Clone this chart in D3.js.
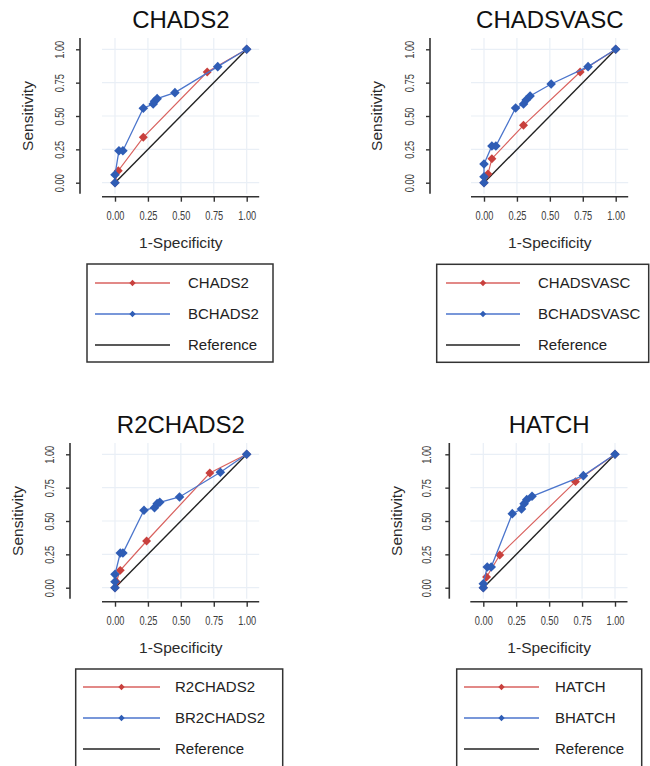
<!DOCTYPE html>
<html>
<head>
<meta charset="utf-8">
<script src="https://cdn.jsdelivr.net/npm/d3@7"></script>
<style>
  body { margin: 0; background: #fff; }
  text { font-family: "Liberation Sans", Arial, sans-serif; }
</style>
</head>
<body>
<div id="chart"></div>
<script>
// tick values and labels shared by both axes
var tickValues = [0, 0.25, 0.5, 0.75, 1];
var tickLabels = ["0.00", "0.25", "0.50", "0.75", "1.00"];

// panel titles and legend names
var titles = ["CHADS2", "CHADSVASC", "R2CHADS2", "HATCH"];
var redNames = ["CHADS2", "CHADSVASC", "R2CHADS2", "HATCH"];
var blueNames = ["BCHADS2", "BCHADSVASC", "BR2CHADS2", "BHATCH"];

// ROC points (1-specificity, sensitivity)
var chads2Fpr = [0, 0.025, 0.215, 0.70, 1];
var chads2Tpr = [0, 0.09, 0.34, 0.83, 1];
var bchads2Fpr = [0, 0, 0.03, 0.06, 0.215, 0.29, 0.30, 0.32, 0.455, 0.78, 1];
var bchads2Tpr = [0, 0.06, 0.24, 0.24, 0.558, 0.59, 0.61, 0.63, 0.675, 0.87, 1];

var chadsvascFpr = [0, 0.03, 0.06, 0.30, 0.73, 1];
var chadsvascTpr = [0, 0.065, 0.18, 0.43, 0.83, 1];
var bchadsvascFpr = [0, 0, 0, 0.06, 0.09, 0.24, 0.30, 0.32, 0.35, 0.51, 0.79, 1];
var bchadsvascTpr = [0, 0.045, 0.14, 0.275, 0.275, 0.56, 0.59, 0.62, 0.65, 0.74, 0.87, 1];

var r2chads2Fpr = [0, 0.01, 0.04, 0.24, 0.72, 1];
var r2chads2Tpr = [0, 0.045, 0.13, 0.35, 0.86, 1];
var br2chads2Fpr = [0, 0, 0, 0.04, 0.06, 0.22, 0.30, 0.32, 0.34, 0.49, 0.80, 1];
var br2chads2Tpr = [0, 0.045, 0.10, 0.26, 0.26, 0.58, 0.60, 0.63, 0.64, 0.68, 0.865, 1];

var hatchFpr = [0, 0.025, 0.125, 0.70, 1];
var hatchTpr = [0, 0.08, 0.245, 0.795, 1];
var bhatchFpr = [0, 0, 0.03, 0.06, 0.22, 0.29, 0.31, 0.33, 0.37, 0.76, 1];
var bhatchTpr = [0, 0.03, 0.155, 0.155, 0.555, 0.59, 0.63, 0.66, 0.685, 0.84, 1];

var refFpr = [0, 1];
var refTpr = [0, 1];

// colours
var redLine = "#d9625f", redMark = "#c8403d";
var blueLine = "#4b75cc", blueMark = "#2f5db5";
var gridColor = "#e9eff6";

// placement of each panel on the page
var layout = [
  {x0: 115,   yTop: 49.3,  yAxisX: 80,    yTickX: 60,    yLabX: 28,
   leg: {x: 87,    y: 264,   w: 186, h: 98,  l0: 95,  l1: 170, tx: 188, r0: 283}},
  {x0: 484,   yTop: 49.3,  yAxisX: 430,   yTickX: 410,   yLabX: 376.7,
   leg: {x: 436.7, y: 264.3, w: 212, h: 98,  l0: 446, l1: 520, tx: 538, r0: 283}},
  {x0: 115,   yTop: 454.3, yAxisX: 70,    yTickX: 50,    yLabX: 18,
   leg: {x: 75.7,  y: 669,   w: 207, h: 110, l0: 83,  l1: 160, tx: 175, r0: 687}},
  {x0: 483.3, yTop: 454.3, yAxisX: 449.3, yTickX: 426.7, yLabX: 396.7,
   leg: {x: 456.7, y: 669,   w: 185, h: 110, l0: 464, l1: 539, tx: 555, r0: 687}}
];
var plotW = 131.7, plotH = 133.4;

var series = [
  [chads2Fpr, chads2Tpr, bchads2Fpr, bchads2Tpr],
  [chadsvascFpr, chadsvascTpr, bchadsvascFpr, bchadsvascTpr],
  [r2chads2Fpr, r2chads2Tpr, br2chads2Fpr, br2chads2Tpr],
  [hatchFpr, hatchTpr, bhatchFpr, bhatchTpr]
];

function toPoints(xs, ys) {
  return xs.map(function(d, i) { return {x: d, y: ys[i]}; });
}

var svg = d3.select("#chart")
  .append("svg")
  .attr("width", 650)
  .attr("height", 766);

svg.append("rect").attr("width", 650).attr("height", 766).attr("fill", "#fff");

var diamond = d3.symbol().type(d3.symbolSquare);

layout.forEach(function(p, k) {
  var xScale = d3.scaleLinear().domain([0, 1]).range([p.x0, p.x0 + plotW]);
  var yScale = d3.scaleLinear().domain([0, 1]).range([p.yTop + plotH, p.yTop]);
  var yBot = p.yTop + plotH;
  var px0 = p.x0 - 13, px1 = p.x0 + plotW + 12.5;
  var py0 = p.yTop - 11.3, py1 = yBot + 11;

  var g = svg.append("g");

  // grid
  g.selectAll(".vgrid").data(tickValues).enter().append("line")
    .attr("x1", xScale).attr("x2", xScale)
    .attr("y1", py0).attr("y2", py1)
    .attr("stroke", gridColor).attr("stroke-width", 1.2);
  g.selectAll(".hgrid").data(tickValues).enter().append("line")
    .attr("y1", yScale).attr("y2", yScale)
    .attr("x1", px0).attr("x2", px1)
    .attr("stroke", gridColor).attr("stroke-width", 1.2);

  // x axis
  var xAxis = d3.axisBottom(xScale).tickValues(tickValues)
    .tickSize(5).tickSizeOuter(0)
    .tickFormat(function(d, i) { return tickLabels[i]; });
  var xg = g.append("g")
    .attr("transform", "translate(0," + (yBot + 14) + ")")
    .call(xAxis);
  xg.select(".domain").remove();
  xg.append("line").attr("x1", px0).attr("x2", px1)
    .attr("stroke", "#333").attr("stroke-width", 1.6);
  xg.selectAll(".tick line").attr("stroke", "#333").attr("stroke-width", 1.4);
  xg.selectAll(".tick text")
    .attr("y", 19).attr("dy", "0.35em")
    .attr("fill", "#3c3c3c")
    .attr("font-size", "12.5px")
    .attr("textLength", 18).attr("lengthAdjust", "spacingAndGlyphs")
    .style("font-family", "'Liberation Sans', Arial, sans-serif");

  // y axis
  var yAxis = d3.axisLeft(yScale).tickValues(tickValues)
    .tickSize(4).tickSizeOuter(0)
    .tickFormat(function(d, i) { return tickLabels[i]; });
  var yg = g.append("g")
    .attr("transform", "translate(" + p.yAxisX + ",0)")
    .call(yAxis);
  yg.select(".domain").remove();
  yg.append("line").attr("y1", py0).attr("y2", py1)
    .attr("stroke", "#333").attr("stroke-width", 1.6);
  yg.selectAll(".tick line").attr("stroke", "#333").attr("stroke-width", 1.4);
  yg.selectAll(".tick text").remove();
  yg.selectAll(".tick").append("text")
    .attr("transform", "translate(" + (p.yTickX - p.yAxisX) + ",0) rotate(-90)")
    .attr("text-anchor", "middle")
    .attr("dy", "0.35em")
    .attr("fill", "#3c3c3c")
    .attr("font-size", "12.5px")
    .attr("textLength", 18).attr("lengthAdjust", "spacingAndGlyphs")
    .text(function(d, i) { return tickLabels[i]; });

  // axis titles
  g.append("text")
    .attr("x", p.x0 + plotW / 2)
    .attr("y", yBot + 60)
    .attr("dy", "0.35em")
    .attr("text-anchor", "middle")
    .attr("font-size", "15.5px")
    .attr("fill", "#2a2a2a")
    .text("1-Specificity");
  g.append("text")
    .attr("transform", "translate(" + p.yLabX + "," + (p.yTop + plotH / 2) + ") rotate(-90)")
    .attr("dy", "0.35em")
    .attr("text-anchor", "middle")
    .attr("font-size", "15.5px")
    .attr("fill", "#2a2a2a")
    .text("Sensitivity");

  // title
  g.append("text")
    .attr("x", p.x0 + plotW / 2)
    .attr("y", p.yTop - 21.3)
    .attr("text-anchor", "middle")
    .attr("font-size", "24px")
    .attr("fill", "#111")
    .text(titles[k]);

  var line = d3.line()
    .x(function(d) { return xScale(d.x); })
    .y(function(d) { return yScale(d.y); });

  // reference diagonal
  g.append("path")
    .datum(toPoints(refFpr, refTpr))
    .attr("d", line)
    .attr("fill", "none")
    .attr("stroke", "#222")
    .attr("stroke-width", 1.4);

  var s = series[k];
  var redPts = toPoints(s[0], s[1]);
  var bluePts = toPoints(s[2], s[3]);

  g.append("path").datum(redPts).attr("d", line)
    .attr("fill", "none").attr("stroke", redLine).attr("stroke-width", 1.2);
  g.selectAll(".redpt").data(redPts).enter().append("path")
    .attr("d", diamond.size(40))
    .attr("transform", function(d) {
      return "translate(" + xScale(d.x) + "," + yScale(d.y) + ") rotate(45)";
    })
    .attr("fill", redMark);

  g.append("path").datum(bluePts).attr("d", line)
    .attr("fill", "none").attr("stroke", blueLine).attr("stroke-width", 1.3);
  g.selectAll(".bluept").data(bluePts).enter().append("path")
    .attr("d", diamond.size(46))
    .attr("transform", function(d) {
      return "translate(" + xScale(d.x) + "," + yScale(d.y) + ") rotate(45)";
    })
    .attr("fill", blueMark);

  // legend
  var L = p.leg;
  g.append("rect")
    .attr("x", L.x).attr("y", L.y)
    .attr("width", L.w).attr("height", L.h)
    .attr("fill", "none").attr("stroke", "#333").attr("stroke-width", 1.5);
  var rows = [
    {name: redNames[k], line: redLine, mark: redMark},
    {name: blueNames[k], line: blueLine, mark: blueMark},
    {name: "Reference", line: "#222", mark: null}
  ];
  rows.forEach(function(r, i) {
    var ry = L.r0 + i * 31;
    g.append("line")
      .attr("x1", L.l0).attr("x2", L.l1)
      .attr("y1", ry).attr("y2", ry)
      .attr("stroke", r.line).attr("stroke-width", 1.4);
    if (r.mark) {
      g.append("path")
        .attr("d", diamond.size(20))
        .attr("transform", "translate(" + ((L.l0 + L.l1) / 2) + "," + ry + ") rotate(45)")
        .attr("fill", r.mark);
    }
    g.append("text")
      .attr("x", L.tx).attr("y", ry)
      .attr("dy", "0.35em")
      .attr("font-size", "15px")
      .attr("fill", "#222")
      .text(r.name);
  });
});
</script>
</body>
</html>
